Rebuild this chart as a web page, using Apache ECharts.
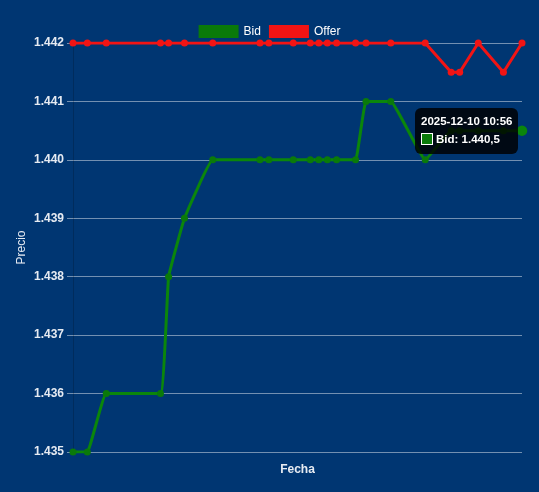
<!DOCTYPE html>
<html>
<head>
<meta charset="utf-8">
<script src="https://cdn.jsdelivr.net/npm/echarts@6/dist/echarts.min.js"></script>
<style>
html,body{margin:0;padding:0;background:#003672;}
#c{width:539px;height:492px;}
</style>
</head>
<body>
<div id="c"></div>
<script>
const times = ['2025-12-10 09:00:00','2025-12-10 09:03:42','2025-12-10 09:08:36','2025-12-10 09:22:36','2025-12-10 09:24:42','2025-12-10 09:28:48','2025-12-10 09:36:06','2025-12-10 09:48:18','2025-12-10 09:50:36','2025-12-10 09:56:54','2025-12-10 10:01:18','2025-12-10 10:03:30','2025-12-10 10:05:42','2025-12-10 10:08:06','2025-12-10 10:13:00','2025-12-10 10:15:42','2025-12-10 10:22:06','2025-12-10 10:31:00','2025-12-10 10:37:42','2025-12-10 10:39:54','2025-12-10 10:44:42','2025-12-10 10:51:12','2025-12-10 10:56:00'];
const bid = [1435,1435,1436,1436,1438,1439,1440,1440,1440,1440,1440,1440,1440,1440,1440,1441,1441,1440,1440.5,1440.5,1440.5,1440.5,1440.5];
const offer = [1442,1442,1442,1442,1442,1442,1442,1442,1442,1442,1442,1442,1442,1442,1442,1442,1442,1442,1441.5,1441.5,1442,1441.5,1442];
const yMin = 1435, yMax = 1442, yStep = 1;

function fmtNum(v){
  const parts = String(v).split('.');
  const intPart = parts[0].replace(/\B(?=(\d{3})+(?!\d))/g, '.');
  return parts.length > 1 ? intPart + ',' + parts[1] : intPart;
}
function toTs(s){ const [d,t]=s.split(' '); const [Y,M,D]=d.split('-').map(Number); const [h,m,sec]=t.split(':').map(Number); return new Date(Y,M-1,D,h,m,sec).getTime(); }
function pad(n){return (n<10?'0':'')+n;}
function fmtTime(ts){ const d=new Date(ts); return d.getFullYear()+'-'+pad(d.getMonth()+1)+'-'+pad(d.getDate())+' '+pad(d.getHours())+':'+pad(d.getMinutes()); }

const tsList = times.map(toTs);
const bidData = tsList.map((t,i)=>[t,bid[i]]);
const offerData = tsList.map((t,i)=>[t,offer[i]]);
const FONT = '"Liberation Sans", Arial, Helvetica, sans-serif';
const CSSFONT = "'Liberation Sans', Arial, Helvetica, sans-serif";
const txt = '#e6ebf2';

const chart = echarts.init(document.getElementById('c'), null, {renderer:'canvas'});
chart.setOption({
  backgroundColor:'#003672',
  animation:false,
  textStyle:{fontFamily:FONT},
  legend:{
    top:20, left:'center', itemWidth:40, itemHeight:13, itemGap:8,
    icon:'rect',
    textStyle:{color:'#ffffff', fontSize:12, fontFamily:FONT},
    data:['Bid','Offer']
  },
  grid:{left:73, right:17, top:43, bottom:40, containLabel:false},
  tooltip:{
    trigger:'item',
    alwaysShowContent:true,
    transitionDuration:0,
    backgroundColor:'rgba(0,0,0,0.82)',
    borderWidth:0,
    borderRadius:6,
    padding:[6,6],
    extraCssText:'box-shadow:none;',
    position:function(){return [415,108];},
    formatter:function(p){
      return '<div style="font:bold 11.5px '+CSSFONT+';color:#fff;line-height:15px;">'+fmtTime(p.value[0])+'</div>'+
        '<div style="font:bold 11.5px '+CSSFONT+';color:#fff;line-height:17px;margin-top:2px;">'+
        '<span style="display:inline-block;width:10px;height:10px;background:'+p.color+';border:1px solid #fff;vertical-align:-2px;margin-right:3px;"></span>'+
        p.seriesName+': '+fmtNum(p.value[1])+'</div>';
    }
  },
  xAxis:{
    type:'time',
    min:tsList[0], max:tsList[tsList.length-1],
    name:'Fecha', nameLocation:'middle', nameGap:12, nameMoveOverlap:false,
    nameTextStyle:{color:txt, fontSize:12, fontWeight:'bold', fontFamily:FONT},
    axisLabel:{show:false}, axisTick:{show:false}, axisLine:{show:false}, splitLine:{show:false}
  },
  yAxis:{
    type:'value', min:yMin, max:yMax, interval:yStep,
    name:'Precio', nameLocation:'middle', nameGap:45, nameRotate:90, nameMoveOverlap:false,
    nameTextStyle:{color:txt, fontSize:12, fontFamily:FONT},
    axisLine:{show:true, lineStyle:{color:'rgba(0,0,0,0.18)', width:1}},
    axisTick:{show:true, length:6, lineStyle:{color:'rgba(255,255,255,0.45)'}},
    axisLabel:{color:txt, fontSize:12, fontWeight:'bold', fontFamily:FONT, margin:9, formatter:fmtNum},
    splitLine:{show:true, lineStyle:{color:'rgba(255,255,255,0.45)', width:1}}
  },
  series:[
    {name:'Bid', type:'line', data:bidData, smooth:0.08, color:'#008000',
     lineStyle:{width:3, color:'#0a7a0a'}, itemStyle:{color:'#0a7a0a'},
     symbol:'circle', symbolSize:7, emphasis:{scale:1.5}},
    {name:'Offer', type:'line', data:offerData, smooth:false, color:'#ff0000',
     lineStyle:{width:3, color:'#f21414'}, itemStyle:{color:'#f21414'},
     symbol:'circle', symbolSize:7}
  ]
});
chart.dispatchAction({type:'showTip', seriesIndex:0, dataIndex:bid.length-1});
chart.dispatchAction({type:'highlight', seriesIndex:0, dataIndex:bid.length-1});
</script>
</body>
</html>
